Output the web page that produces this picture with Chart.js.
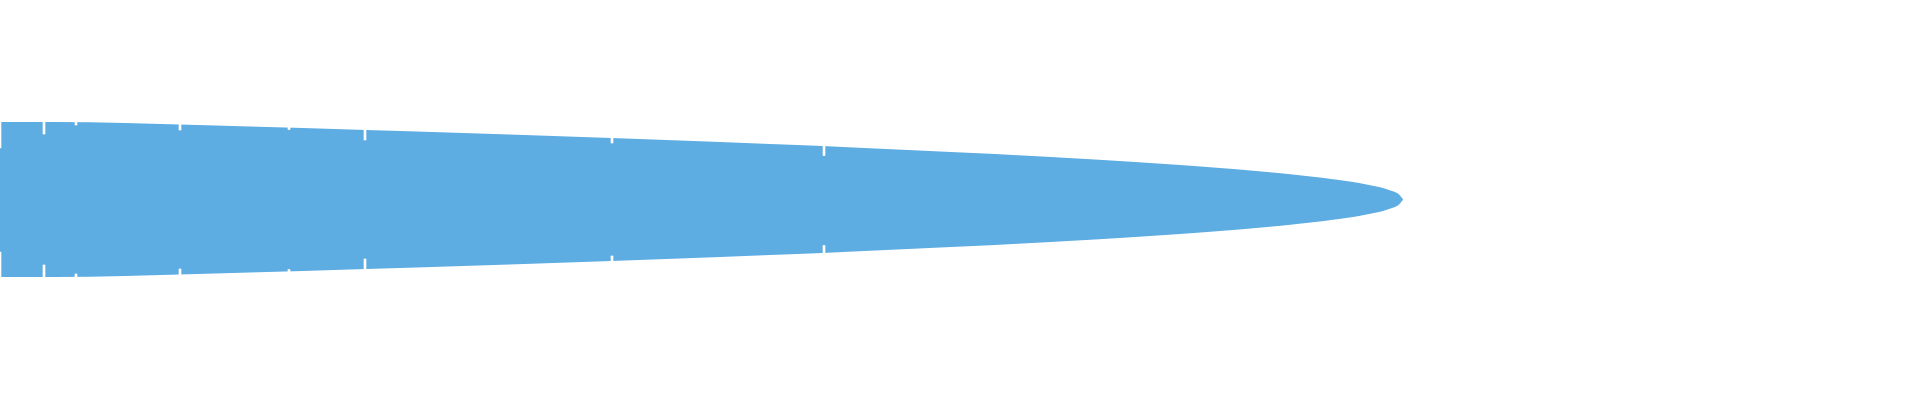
<!DOCTYPE html>
<html>
<head>
<meta charset="utf-8">
<script src="https://cdn.jsdelivr.net/npm/chart.js@4.4.1/dist/chart.umd.min.js"></script>
<style>
  html, body { margin: 0; padding: 0; background: #ffffff; }
  #wrap { width: 1920px; height: 400px; position: relative; }
</style>
</head>
<body>
<div id="wrap"><canvas id="c"></canvas></div>
<script>
// Position along the horizontal axis (px-scale units) of the sampled edge
const xs = [0, 54, 125, 161, 197, 232, 267, 303, 334, 366, 400, 432, 463, 494, 524, 553, 582, 611, 639, 666,
  693, 720, 745, 770, 797, 822, 843, 864, 886, 908, 929, 951, 973, 995, 1013, 1032, 1051, 1068, 1086, 1103,
  1119, 1135, 1150, 1165, 1180, 1194, 1207, 1220, 1233, 1245, 1256, 1267, 1278, 1288, 1297, 1306, 1315, 1324,
  1331, 1339, 1346, 1353, 1359, 1364, 1369, 1374, 1379, 1383, 1386, 1389, 1392, 1395, 1397, 1398.5, 1399.5,
  1400.5, 1401.5, 1402.5, 1403];
// Half-height of the shape at each x (symmetric about the axis)
const halfWidths = [77.5, 77.5, 76.5, 75.5, 74.5, 73.5, 72.5, 71.5, 70.5, 69.5, 68.5, 67.5, 66.5, 65.5, 64.5, 63.5,
  62.5, 61.5, 60.5, 59.5, 58.5, 57.5, 56.5, 55.5, 54.5, 53.5, 52.5, 51.5, 50.5, 49.5, 48.5, 47.5, 46.5, 45.5,
  44.5, 43.5, 42.5, 41.5, 40.5, 39.5, 38.5, 37.5, 36.5, 35.5, 34.5, 33.5, 32.5, 31.5, 30.5, 29.5, 28.5, 27.5,
  26.5, 25.5, 24.5, 23.5, 22.5, 21.5, 20.5, 19.5, 18.5, 17.5, 16.5, 15.5, 14.5, 13.5, 12.5, 11.5, 10.5, 9.5,
  8.5, 7.5, 6.5, 5.5, 4.5, 3.5, 2, 1, 0];

// Segment separators (white marks)
const markX = [0, 44, 76, 180, 289, 365, 612, 824];
const markEdge = [77.5, 77.5, 77.5, 75.5, 72.5, 69.5, 61.5, 54];
const markTopLen = [26, 12, 3, 6, 2.5, 10, 5, 10];
const markBottomLen = [25, 12, 3, 6, 2.5, 10, 5, 8];

const BLUE = '#5DACE2';

const upper = xs.map((x, i) => ({ x: x, y: halfWidths[i] }));
const lower = xs.map((x, i) => ({ x: x, y: -halfWidths[i] }));
const topMarks = markX.map((x, i) => ({ x: x, y: [markEdge[i] - markTopLen[i], markEdge[i] + 3] }));
const bottomMarks = markX.map((x, i) => ({ x: x, y: [-(markEdge[i] + 3), -(markEdge[i] - markBottomLen[i])] }));

new Chart(document.getElementById('c'), {
  type: 'line',
  data: {
    datasets: [
      { type: 'bar', label: 'top separators', data: topMarks, backgroundColor: '#ffffff',
        borderWidth: 0, barThickness: 2, grouped: false },
      { type: 'bar', label: 'bottom separators', data: bottomMarks, backgroundColor: '#ffffff',
        borderWidth: 0, barThickness: 2, grouped: false },
      { type: 'line', label: 'upper', data: upper, fill: '+1', backgroundColor: BLUE,
        borderColor: 'rgba(0,0,0,0)', borderWidth: 0, pointRadius: 0, cubicInterpolationMode: 'monotone' },
      { type: 'line', label: 'lower', data: lower, fill: false, backgroundColor: BLUE,
        borderColor: 'rgba(0,0,0,0)', borderWidth: 0, pointRadius: 0, cubicInterpolationMode: 'monotone' }
    ]
  },
  options: {
    responsive: true,
    maintainAspectRatio: false,
    animation: false,
    devicePixelRatio: 1,
    layout: { padding: 0 },
    plugins: { legend: { display: false }, tooltip: { enabled: false } },
    scales: {
      x: { type: 'linear', min: 0, max: 1920, offset: false, display: false },
      y: { type: 'linear', min: -200.5, max: 199.5, display: false }
    }
  }
});
</script>
</body>
</html>
